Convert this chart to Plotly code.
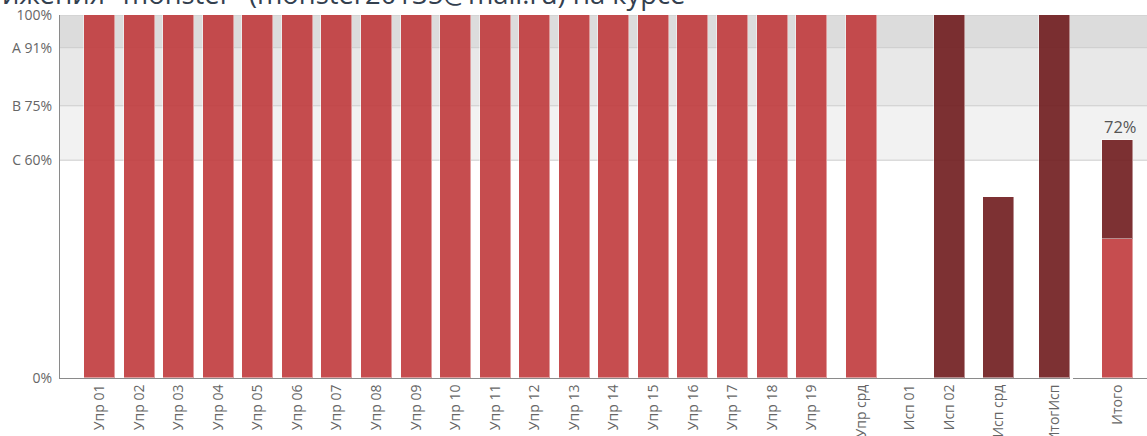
import numpy as np
import plotly.graph_objects as go

# ---- data -------------------------------------------------------------
upr_labels = [f"Упр {i:02d}" for i in range(1, 20)] + ["Упр срд"]
upr_values = [100] * 19 + [100]

isp_labels = ["Исп 01", "Исп 02", "Исп срд", "ИтогИсп"]
isp_values = [0, 100, 50, 100]

total_label = "Итого"
total_upr_part = 42
total_isp_part = 30
total_value = total_upr_part + total_isp_part

grade_ticks = [0, 60, 75, 91, 100]
grade_text = ["0%", "C 60%", "B 75%", "A 91%", "100%"]

# ---- layout helpers -----------------------------------------------------
# spacing between consecutive category slots (in slot units)
slot_steps = [1] * 19 + [1.25, 1.21, 1.02, 1.24, 1.41]
slots = list(np.cumsum(slot_steps))
upr_x = slots[:len(upr_labels)]
isp_x = slots[len(upr_labels):]

LIGHT = "rgba(192,58,60,0.9)"
DARK = "rgba(111,27,29,0.9)"
EDGE = "rgba(255,255,255,0.45)"
BAR_W = 0.784
FONT = "Open Sans"
TICK_COLOR = "#666666"
TICK_SIZE = 14

fig = go.Figure()

fig.add_trace(go.Bar(
    x=upr_x, y=upr_values, width=BAR_W,
    marker=dict(color=LIGHT, line=dict(color=EDGE, width=1)),
    xaxis="x", yaxis="y", showlegend=False, hoverinfo="skip",
))
fig.add_trace(go.Bar(
    x=isp_x, y=isp_values, width=BAR_W,
    marker=dict(color=DARK, line=dict(color=EDGE, width=1)),
    xaxis="x", yaxis="y", showlegend=False, hoverinfo="skip",
))

# stacked total on its own panel
fig.add_trace(go.Bar(
    x=[total_label], y=[total_upr_part], width=BAR_W,
    marker=dict(color=LIGHT, line=dict(color=EDGE, width=1)),
    xaxis="x2", yaxis="y2", showlegend=False, hoverinfo="skip",
))
fig.add_trace(go.Bar(
    x=[total_label], y=[total_isp_part], width=BAR_W,
    marker=dict(color=DARK, line=dict(color=EDGE, width=1)),
    xaxis="x2", yaxis="y2", showlegend=False, hoverinfo="skip",
))

# grade bands and their boundary lines behind the bars, across both panels
bands = [(91, 100, "#dcdcdc"), (75, 91, "#e8e8e8"), (60, 75, "#f2f2f2")]
for lo, hi, col in bands:
    fig.add_shape(type="rect", xref="paper", yref="y", x0=0, x1=1,
                  y0=lo, y1=hi, fillcolor=col, line_width=0, layer="below")
for level in grade_ticks[1:]:
    fig.add_shape(type="line", xref="paper", yref="y", x0=0, x1=1,
                  y0=level, y1=level, line=dict(color="#cccccc", width=1),
                  layer="below")

fig.add_annotation(
    xref="x2", yref="y2", x=total_label, y=total_value,
    text=f"{total_value}%", showarrow=False, yanchor="bottom", yshift=0,
    xshift=3, font=dict(family=FONT, size=16.5, color="#555555"),
)

W, H = 1147, 436
left, right, top, bottom = 60, 0, 15, 58
plot_w = W - left - right
split_a = (1070 - left) / plot_w
split_b = (1073 - left) / plot_w
unit_px = 39.56

fig.add_annotation(
    xref="paper", yref="paper", x=-left / plot_w, y=1,
    xanchor="left", yanchor="bottom", yshift=1,
    text='ижения "monster" (monster20135@mail.ru) на курсе',
    showarrow=False, font=dict(family=FONT, size=27.4, color="#33404f"),
)

fig.update_layout(
    width=W, height=H,
    margin=dict(l=left, r=right, t=top, b=bottom, autoexpand=False),
    paper_bgcolor="white", plot_bgcolor="rgba(0,0,0,0)",
    barmode="stack", bargap=0,
    font=dict(family=FONT, color=TICK_COLOR, size=TICK_SIZE),
    xaxis=dict(
        domain=[0, split_a], range=[0, (1070 - left) / unit_px],
        tickmode="array", tickvals=upr_x + isp_x, ticktext=upr_labels + isp_labels,
        tickangle=-90, showline=True, linecolor="#8a8a8a", linewidth=1,
        showgrid=False, zeroline=False, ticks="", anchor="y", automargin=False,
        tickfont=dict(size=TICK_SIZE, color=TICK_COLOR),
    ),
    yaxis=dict(
        domain=[0, 1], range=[0, 100], anchor="x", automargin=False,
        tickmode="array", tickvals=grade_ticks, ticktext=grade_text,
        showline=True, linecolor="#8a8a8a", linewidth=1,
        showgrid=False, zeroline=False,
        ticks="", ticklabelstandoff=4,
        tickfont=dict(size=TICK_SIZE, color=TICK_COLOR),
    ),
    xaxis2=dict(
        domain=[split_b, 1], anchor="y2", automargin=False,
        type="category", range=[-44.5 / unit_px, (1147 - 1117.5) / unit_px],
        tickangle=-90, showline=True, linecolor="#8a8a8a", linewidth=1,
        showgrid=False, zeroline=False, ticks="",
        tickfont=dict(size=TICK_SIZE, color=TICK_COLOR),
    ),
    yaxis2=dict(
        domain=[0, 1], range=[0, 110], anchor="x2", automargin=False,
        showticklabels=False, showgrid=False, showline=False, zeroline=False,
    ),
)

fig.write_html("out.html")
